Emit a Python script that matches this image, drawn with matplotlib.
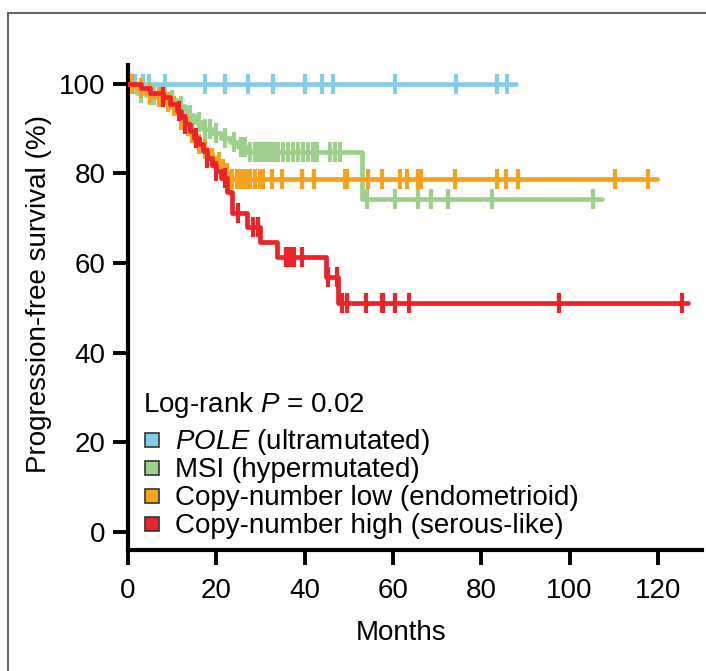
import numpy as np
import matplotlib.pyplot as plt
from matplotlib.lines import Line2D

plt.rcParams['font.family'] = ['Liberation Sans', 'DejaVu Sans']
plt.rcParams['mathtext.fontset'] = 'custom'
plt.rcParams['mathtext.it'] = 'Liberation Sans:italic'
plt.rcParams['mathtext.rm'] = 'Liberation Sans'

# step curves: event times (months) and survival (%) after each step
pole_t = [0]
pole_s = [100]
pole_end = 87.8
pole_cens = [1.6, 3.4, 4.8, 8.4, 17.4, 22.0, 27.2, 32.8, 40.0, 44.0, 46.4, 60.4, 74.3, 83.5, 85.8]

msi_t = [0, 1, 2, 4, 9, 11, 13, 15, 17, 19, 21, 23, 25, 27, 53]
msi_s = [100, 99, 98, 97.5, 96.5, 95, 93, 91.5, 90, 89, 88, 87, 86, 84.8, 74.2]
msi_end = 107.3
msi_cens = [3, 5, 6, 8, 10, 12, 14, 16, 17.5, 18.5, 20, 22, 24, 25.5,
            26.5, 27.6, 28.8, 29.4, 30.3, 31.2, 32.1, 33.0, 33.9, 35.0, 36.2, 37.3,
            38.4, 39.6, 40.7, 41.8, 42.9, 45.7, 46.8, 48.0,
            54.1, 60.4, 65.6, 68.6, 72.4, 82.4, 105.3]

cnl_t = [0, 2, 4, 6, 8, 10, 11, 12, 13, 14, 15, 16, 17, 18, 19, 20, 21, 22, 23]
cnl_s = [100, 99, 98, 97, 96, 95, 93.5, 92, 90.5, 89, 88, 86.5, 85.5, 84.5, 83.5, 82.5, 81, 80, 78.8]
cnl_end = 119.8
cnl_cens = [1, 3, 5, 7, 9, 10.5, 12, 13.5, 14.5, 16, 17.5, 19, 20.5, 21.5, 22.5,
            23.5, 24.7, 25.4, 26.0, 26.9, 27.6, 28.8, 29.9, 30.6, 32.6, 34.9, 39.4,
            42.1, 49.1, 49.6, 54.3, 57.5, 61.6, 63.2, 65.7, 66.3, 74.0, 83.5, 85.6,
            88.3, 110.3, 117.7]

cnh_t = [0, 3, 5, 8, 9.5, 11, 12, 13, 14, 15, 16, 17, 18, 19, 20, 21, 22.4, 23.5,
         26.9, 29.9, 33.7, 44.8, 47.6]
cnh_s = [100, 99, 98, 97, 95.5, 94, 92.5, 91, 89.5, 88, 86.5, 85, 83.5, 82, 80.5,
         79, 75.9, 71.2, 68.1, 64.7, 61.4, 57.0, 51.1]
cnh_end = 126.8
cnh_cens = [8, 11.5, 13, 15.5, 18, 20, 22, 24.9, 28.3, 29.5,
            35.8, 36.2, 36.7, 37.1, 37.6, 39.4, 45.3, 47.3,
            48.4, 49.6, 53.9, 57.5, 57.8, 60.4, 63.6, 97.6, 125.4]

labels = [r'$\it{POLE}$ (ultramutated)', 'MSI (hypermutated)',
          'Copy-number low (endometrioid)', 'Copy-number high (serous-like)']
colors = ['#85CBEA', '#9DD18B', '#F6A21C', '#EC2329']

groups = [(pole_t, pole_s, pole_end, pole_cens),
          (msi_t, msi_s, msi_end, msi_cens),
          (cnl_t, cnl_s, cnl_end, cnl_cens),
          (cnh_t, cnh_s, cnh_end, cnh_cens)]

W, H = 706, 671
FS = 20
fig = plt.figure(figsize=(W / 100, H / 100), dpi=100)
ax = fig.add_axes([128 / W, 1 - 550 / H, (702 - 128) / W, (550 - 65) / H])

for (t, s, end, cens), c in zip(groups, colors):
    tt = list(t) + [end]
    ss = list(s) + [s[-1]]
    ax.step(tt, ss, where='post', color=c, lw=3.4, solid_capstyle='round',
            solid_joinstyle='round', zorder=3)
    idx = np.searchsorted(np.array(t), np.array(cens), side='right') - 1
    cy = np.array(s)[idx]
    ax.plot(cens, cy, ls='none', marker='|', ms=15, mew=3.0, color=c, zorder=3)

ax.set_xlim(0, 130)
ax.set_ylim(-4, 104.2)
ax.set_xticks([0, 20, 40, 60, 80, 100, 120])
ax.set_yticks([0, 20, 40, 60, 80, 100])
for sp in ['top', 'right']:
    ax.spines[sp].set_visible(False)
for sp in ['left', 'bottom']:
    ax.spines[sp].set_linewidth(3.0)
ax.tick_params(axis='both', width=2.8, length=11, labelsize=FS)
ax.tick_params(axis='y', pad=5)
ax.tick_params(axis='x', pad=9)
ax.set_xlabel('Months', fontsize=FS)
ax.xaxis.set_label_coords((401 - 128) / (702 - 128), -(633 - 550) / (550 - 65), transform=ax.transAxes)
ax.xaxis.label.set_va('center')
ax.set_ylabel('Progression-free survival (%)', fontsize=FS)
ax.yaxis.set_label_coords(-(128 - 39) / (702 - 128), (550 - 294) / (550 - 65), transform=ax.transAxes)
ax.yaxis.label.set_va('center')

# legend block
fig.text(143 / W, 1 - 405 / H, r'Log-rank $\it{P}$ = 0.02', fontsize=FS, va='center', ha='left')
rows = [442, 470, 498, 526]
for i, (lab, c) in enumerate(zip(labels, colors)):
    y = 1 - rows[i] / H
    fig.patches.append(plt.Rectangle((145 / W, y - 5 / H), 14 / W, 14 / H,
                                     transform=fig.transFigure, facecolor=c,
                                     edgecolor='#333333', lw=1.2))
    fig.text(175 / W, y, lab, fontsize=FS, va='center', ha='left')

# outer frame (top and left only)
fig.add_artist(Line2D([8 / W, 8 / W], [0, 1 - 13 / H], transform=fig.transFigure,
                      color='#666666', lw=1.5))
fig.add_artist(Line2D([8 / W, 1], [1 - 13 / H, 1 - 13 / H], transform=fig.transFigure,
                      color='#666666', lw=1.5))

fig.savefig('out.png', dpi=100)
